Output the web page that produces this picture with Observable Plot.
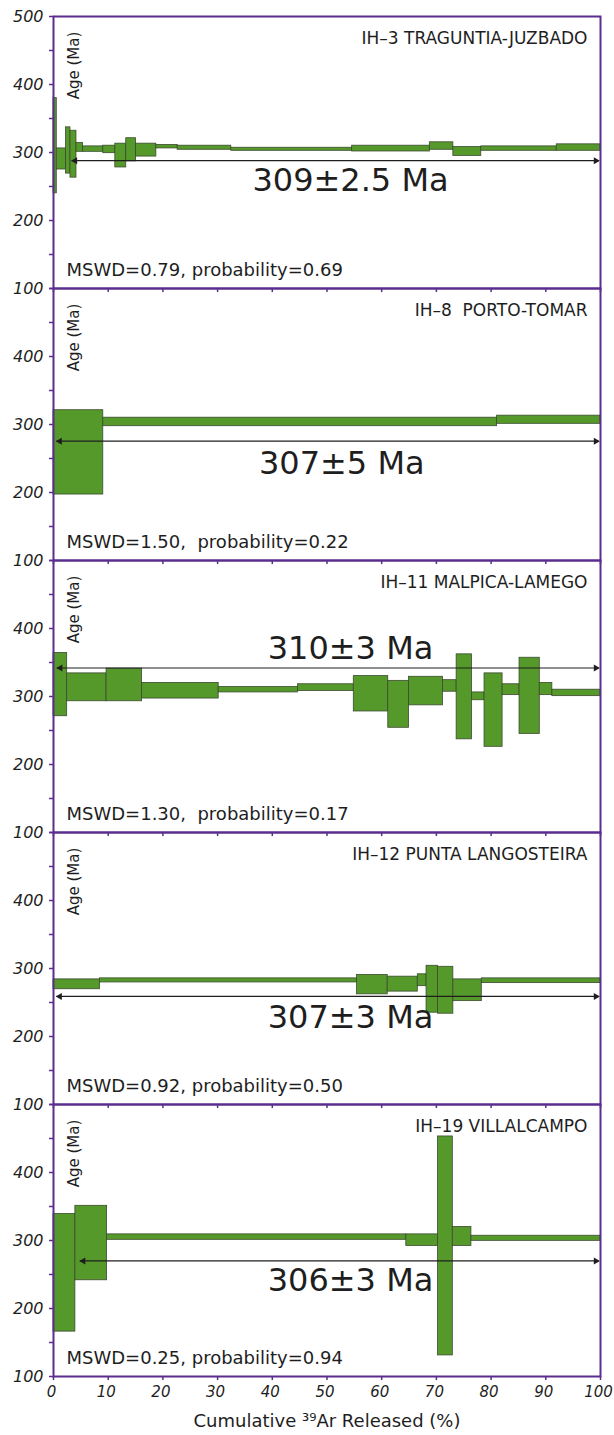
<!DOCTYPE html>
<html><head><meta charset="utf-8">
<script src="https://cdn.jsdelivr.net/npm/d3@7"></script>
<script src="https://cdn.jsdelivr.net/npm/@observablehq/plot@0.6"></script>
<style>
body{margin:0;background:#fff;}
#chart svg{display:block;}
#chart g[aria-label="sample name"] text{letter-spacing:0.9px;}
#chart g[aria-label="mswd"] text{letter-spacing:0.9px;}
#chart g[aria-label="x title"] text{letter-spacing:0.6px;}
</style></head><body><div id="chart"></div>
<script>
// ---- data ----
const sampleNames = ["IH–3 TRAGUNTIA-JUZBADO", "IH–8  PORTO-TOMAR", "IH–11 MALPICA-LAMEGO", "IH–12 PUNTA LANGOSTEIRA", "IH–19 VILLALCAMPO"];
const plateauLabels = ["309±2.5 Ma", "307±5 Ma", "310±3 Ma", "307±3 Ma", "306±3 Ma"];
const mswdValues = ["0.79", "1.50", "1.30", "0.92", "0.25"];
const probValues = ["0.69", "0.22", "0.17", "0.50", "0.94"];
const mswdSeparators = [", ", ",  ", ",  ", ", ", ", "];
const plateauArrowAge = [288, 275.5, 342, 259, 270];
const plateauArrowStart = [3.4, 0.6, 0.7, 0.6, 4.9];
const plateauLabelAge = [258, 243, 370, 228, 241];
const plateauLabelX = [54.3, 52.7, 54.3, 54.3, 54.3];

// cumulative 39Ar released (%) step edges, and age ranges (Ma) per step
const ih3Edges = [0, 0.6, 2.3, 3.1, 4.2, 5.4, 9.1, 11.3, 13.3, 15.1, 18.8, 22.7, 32.5, 54.6, 68.8, 73.1, 78.2, 92.0, 100];
const ih3Low  = [240, 275, 269, 263, 301, 301, 299, 278, 287, 294, 306, 304, 302.5, 301.5, 304, 295, 302.5, 302.5];
const ih3High = [380, 306, 337, 332, 314, 309, 310, 313, 321, 313, 311, 310, 307, 310, 315, 308, 309, 312];

const ih8Edges = [0, 9.1, 81.1, 100];
const ih8Low  = [197, 297.5, 301];
const ih8High = [321, 310, 313];

const ih11Edges = [0, 2.5, 9.7, 16.2, 30.2, 44.7, 54.9, 61.2, 65.0, 71.2, 73.7, 76.5, 78.8, 82.1, 85.2, 88.9, 91.2, 100];
const ih11Low  = [271, 293, 293, 297, 306, 308, 278, 254, 287, 307, 237, 294.5, 226, 302, 245, 302, 300.5];
const ih11High = [364, 334, 341, 320, 314, 318, 330, 323, 329, 324, 362, 306, 334, 318, 357, 320, 310];

const ih12Edges = [0, 8.5, 55.5, 61.1, 66.6, 68.2, 70.3, 73.1, 78.3, 100];
const ih12Low  = [269.5, 279.5, 262, 266, 274, 235, 233.5, 252, 278.5];
const ih12High = [284, 285.5, 290.5, 288, 291.5, 304, 302.5, 284, 285.5];

const ih19Edges = [0, 4.0, 9.8, 64.5, 70.3, 73.0, 76.4, 100];
const ih19Low  = [166, 241.5, 301, 292, 131, 292, 299.5];
const ih19High = [339, 351, 309, 309, 453, 320, 307];

const xTicks = [0, 10, 20, 30, 40, 50, 60, 70, 80, 90, 100];
const yTicks = [100, 150, 200, 250, 300, 350, 400, 450, 500];

// ---- build tables ----
const spectra = [
  [ih3Edges, ih3Low, ih3High],
  [ih8Edges, ih8Low, ih8High],
  [ih11Edges, ih11Low, ih11High],
  [ih12Edges, ih12Low, ih12High],
  [ih19Edges, ih19Low, ih19High]
];
const steps = [];
spectra.forEach(([edges, lo, hi], p) => {
  lo.forEach((l, i) => steps.push({panel: p, x1: edges[i], x2: edges[i + 1], y1: l, y2: hi[i]}));
});
const arrowEnd = 99.7;
const panels = sampleNames.map((name, p) => ({
  panel: p, name,
  label: plateauLabels[p],
  mswd: `MSWD=${mswdValues[p]}${mswdSeparators[p]}probability=${probValues[p]}`,
  ay: plateauArrowAge[p], ax0: plateauArrowStart[p], ax1: arrowEnd,
  ly: plateauLabelAge[p], lx: plateauLabelX[p]
}));

const purple = "#5b2d8e";
const green = "#55992b";
const ink = "#1e1e1e";

const chart = Plot.plot({
  width: 614, height: 1435,
  marginTop: 15, marginBottom: 58, marginLeft: 53, marginRight: 14,
  style: {fontFamily: "'DejaVu Sans', sans-serif", background: "white", color: ink},
  x: {domain: [0, 100]},
  y: {domain: [100, 500]},
  fy: {domain: [0, 1, 2, 3, 4], padding: 0, axis: null},
  marks: [
    Plot.rect(steps, {x1: "x1", x2: "x2", y1: "y1", y2: "y2", fy: "panel",
      fill: green, stroke: "#3c4a30", strokeWidth: 0.8}),
    Plot.ruleY(panels, {y: "ay", x1: "ax0", x2: "ax1", fy: "panel", stroke: ink, strokeWidth: 1.1}),
    Plot.dot(panels, {x: "ax0", y: "ay", fy: "panel", symbol: "triangle", rotate: -90,
      r: 2.6, dx: 3, fill: ink, stroke: "none"}),
    Plot.dot(panels, {x: "ax1", y: "ay", fy: "panel", symbol: "triangle", rotate: 90,
      r: 2.6, dx: -3, fill: ink, stroke: "none"}),
    Plot.axisX(xTicks, {tickSize: 4, tickFormat: () => "", facetAnchor: null,
      stroke: purple, strokeWidth: 1.5, label: null}),
    Plot.axisX(xTicks, {tickSize: 0, tickPadding: 10, fontSize: 15, fontStyle: "italic",
      fill: ink, label: null, dx: -2}),
    Plot.axisY(yTicks, {tickSize: 4, tickPadding: 6, fontSize: 16, fontStyle: "italic", fill: ink,
      stroke: purple, strokeWidth: 1.5, label: null,
      tickFormat: d => (d % 100 === 0 && d < 500) ? String(d) : ""}),
    Plot.text([panels[0]], {fy: "panel", x: 0, y: 500, text: () => "500",
      textAnchor: "end", dx: -10, fontSize: 16, fontStyle: "italic", fill: ink}),
    Plot.frame({stroke: purple, strokeWidth: 2}),
    Plot.text(panels, {fy: "panel", text: "name", frameAnchor: "top-right",
      dx: -13, dy: 22, lineAnchor: "middle", fontSize: 17, fill: ink, ariaLabel: "sample name"}),
    Plot.text(panels, {fy: "panel", text: () => "Age (Ma)", frameAnchor: "top-left",
      dx: 21, dy: 49, rotate: -90, textAnchor: "middle", lineAnchor: "middle",
      fontSize: 15, fill: ink, ariaLabel: "age label"}),
    Plot.text(panels, {fy: "panel", text: "mswd", frameAnchor: "bottom-left",
      dx: 13, dy: -18, textAnchor: "start", lineAnchor: "middle", fontSize: 18,
      fill: ink, ariaLabel: "mswd"}),
    Plot.text(panels, {fy: "panel", x: "lx", y: "ly", text: "label",
      lineAnchor: "middle", fontSize: 32, fill: ink}),
    Plot.text([panels[4]], {fy: "panel", text: () => "Cumulative ³⁹Ar Released (%)",
      frameAnchor: "bottom", dy: 45, lineAnchor: "middle", fontSize: 18, fill: ink,
      ariaLabel: "x title"})
  ]
});
document.getElementById("chart").appendChild(chart);

// italic parts, as in the reference typography
function splitItalic(selector, re) {
  chart.querySelectorAll(selector).forEach(t => {
    const s = t.textContent;
    t.textContent = "";
    s.split(re).forEach((part, i) => {
      if (!part) return;
      const ts = document.createElementNS("http://www.w3.org/2000/svg", "tspan");
      ts.textContent = part;
      if (i % 2 === 1) ts.setAttribute("font-style", "italic");
      t.appendChild(ts);
    });
  });
}
splitItalic('g[aria-label="mswd"] text', /(\d+\.\d+)/);
splitItalic('g[aria-label="age label"] text', /(Age)/);
splitItalic('g[aria-label="x title"] text', /(Released)/);
</script>
</body></html>
